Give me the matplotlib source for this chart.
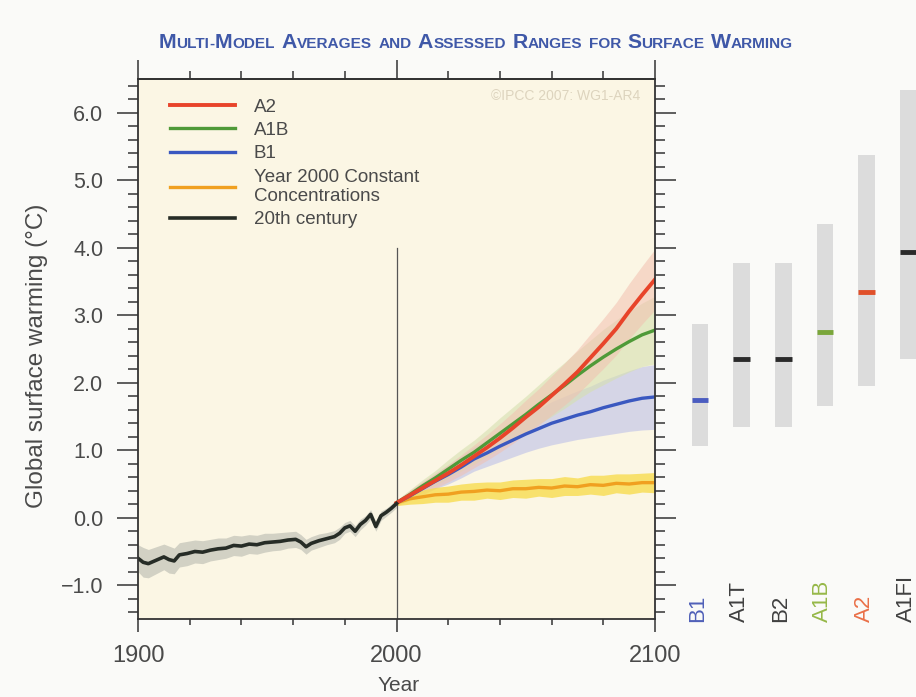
import numpy as np
import matplotlib.pyplot as plt
from matplotlib.ticker import MultipleLocator, FuncFormatter, NullFormatter

plt.rcParams['font.family'] = ['Liberation Sans', 'DejaVu Sans']

# 20th century observed-run mean and spread
hist_years = [1900, 1902, 1904, 1907, 1910, 1912, 1914, 1916, 1919, 1922, 1925, 1928,
              1931, 1934, 1937, 1940, 1943, 1946, 1949, 1952, 1955, 1958, 1961, 1963,
              1965, 1967, 1970, 1973, 1976, 1978, 1980, 1982, 1984, 1986, 1988, 1990,
              1992, 1994, 1996, 1998, 2000]
hist_temp = [-0.60, -0.66, -0.68, -0.63, -0.58, -0.62, -0.64, -0.55, -0.53, -0.50, -0.51, -0.48,
             -0.46, -0.45, -0.41, -0.42, -0.39, -0.40, -0.37, -0.36, -0.35, -0.33, -0.32, -0.36,
             -0.43, -0.38, -0.34, -0.31, -0.28, -0.23, -0.15, -0.12, -0.20, -0.10, -0.04, 0.05,
             -0.13, 0.03, 0.08, 0.14, 0.21]
hist_spread = [0.20, 0.22, 0.21, 0.20, 0.19, 0.20, 0.19, 0.18, 0.18, 0.17, 0.17, 0.16,
               0.16, 0.15, 0.15, 0.15, 0.14, 0.14, 0.14, 0.13, 0.13, 0.12, 0.12, 0.11,
               0.11, 0.10, 0.10, 0.09, 0.09, 0.09, 0.08, 0.08, 0.08, 0.08, 0.07, 0.07,
               0.07, 0.07, 0.06, 0.06, 0.06]

# 21st century projections
proj_years = [2000, 2005, 2010, 2015, 2020, 2025, 2030, 2035, 2040, 2045, 2050,
              2055, 2060, 2065, 2070, 2075, 2080, 2085, 2090, 2095, 2100]
a2_temp = [0.22, 0.33, 0.44, 0.55, 0.66, 0.78, 0.91, 1.04, 1.18, 1.33, 1.49,
           1.64, 1.81, 1.98, 2.16, 2.37, 2.58, 2.80, 3.06, 3.30, 3.53]
a2_spread = [0.04, 0.07, 0.09, 0.11, 0.13, 0.15, 0.17, 0.19, 0.21, 0.23, 0.25,
             0.27, 0.29, 0.31, 0.33, 0.35, 0.37, 0.39, 0.41, 0.43, 0.45]
a1b_temp = [0.22, 0.34, 0.47, 0.59, 0.72, 0.85, 0.97, 1.11, 1.25, 1.39, 1.53,
            1.68, 1.82, 1.96, 2.11, 2.25, 2.38, 2.50, 2.61, 2.71, 2.78]
a1b_spread = [0.04, 0.07, 0.09, 0.11, 0.14, 0.16, 0.18, 0.20, 0.23, 0.25, 0.27,
              0.29, 0.32, 0.34, 0.36, 0.38, 0.41, 0.43, 0.45, 0.47, 0.50]
b1_temp = [0.22, 0.32, 0.43, 0.54, 0.64, 0.75, 0.87, 0.96, 1.06, 1.15, 1.24,
           1.32, 1.40, 1.46, 1.52, 1.57, 1.63, 1.68, 1.73, 1.77, 1.79]
b1_spread = [0.04, 0.07, 0.09, 0.11, 0.14, 0.16, 0.18, 0.20, 0.23, 0.25, 0.27,
             0.29, 0.32, 0.34, 0.36, 0.38, 0.41, 0.43, 0.45, 0.47, 0.48]
const_temp = [0.22, 0.28, 0.31, 0.34, 0.35, 0.38, 0.39, 0.41, 0.40, 0.43, 0.43,
              0.45, 0.44, 0.47, 0.46, 0.49, 0.48, 0.51, 0.50, 0.52, 0.52]
const_spread = [0.04, 0.08, 0.10, 0.11, 0.12, 0.12, 0.13, 0.12, 0.13, 0.13, 0.14,
                0.13, 0.14, 0.14, 0.13, 0.14, 0.15, 0.14, 0.15, 0.14, 0.15]

# assessed likely ranges at 2090-2099
scen_names = ['B1', 'A1T', 'B2', 'A1B', 'A2', 'A1FI']
scen_low = [1.07, 1.35, 1.35, 1.65, 1.95, 2.35]
scen_high = [2.87, 3.77, 3.77, 4.35, 5.37, 6.33]
scen_best = [1.75, 2.35, 2.35, 2.75, 3.35, 3.93]
scen_colors = ['#4a5cc0', '#2a2a2a', '#2a2a2a', '#7aa63a', '#e0502a', '#2a2a2a']
scen_text_colors = ['#5060b8', '#404040', '#404040', '#96b848', '#ea7048', '#404040']

W, H = 916, 697
fig = plt.figure(figsize=(W / 100, H / 100), dpi=100, facecolor='#fafaf8')
ax = fig.add_axes([138 / W, 1 - 619 / H, (655 - 138) / W, (619 - 79) / H])
ax.set_facecolor('#fbf6e4')

txt = '#4a4a4a'

# shaded spreads
hy, ht, hs = np.array(hist_years), np.array(hist_temp), np.array(hist_spread)
ax.fill_between(hy, ht - hs, ht + hs, color='#c8c8bc', alpha=0.8, lw=0)
py = np.array(proj_years)
for temp, spread, col, a in [(b1_temp, b1_spread, '#c9cbe8', 0.75),
                             (a1b_temp, a1b_spread, '#d6e0b0', 0.6),
                             (a2_temp, a2_spread, '#f2c0b0', 0.55),
                             (const_temp, const_spread, '#f8dc50', 0.8)]:
    t, s = np.array(temp), np.array(spread)
    ax.fill_between(py, t - s, t + s, color=col, alpha=a, lw=0)

ax.plot([2000, 2000], [-1.5, 4.0], color='#555555', lw=0.9)

l_const, = ax.plot(py, const_temp, color='#f0a020', lw=2.4)
l_b1, = ax.plot(py, b1_temp, color='#3a58c0', lw=2.4)
l_a1b, = ax.plot(py, a1b_temp, color='#4f9a38', lw=2.4)
l_a2, = ax.plot(py, a2_temp, color='#e8442a', lw=2.8)
l_hist, = ax.plot(hy, ht, color='#262c26', lw=2.6)

ax.set_xlim(1900, 2100)
ax.set_ylim(-1.5, 6.5)
ax.xaxis.set_major_locator(MultipleLocator(100))
ax.xaxis.set_minor_locator(MultipleLocator(20))
ax.yaxis.set_major_locator(MultipleLocator(1.0))
ax.yaxis.set_minor_locator(MultipleLocator(0.2))
ax.yaxis.set_major_formatter(FuncFormatter(lambda v, p: f'{v:.1f}'.replace('-', '\u2212')))
ax.tick_params(axis='both', which='both', direction='out', colors='#333333',
               labelcolor=txt, width=1.1)
ax.tick_params(axis='y', which='both', left=True, right=True)
ax.tick_params(axis='y', which='major', length=15, labelsize=15.5, pad=10)
ax.tick_params(axis='y', which='minor', length=7)
ax.tick_params(axis='x', which='major', length=9.5, labelsize=17, pad=9)
ax.tick_params(axis='x', which='minor', length=4)
for sp in ax.spines.values():
    sp.set_color('#333333')
    sp.set_linewidth(1.3)

# top ticks are longer than the bottom ones
top = ax.secondary_xaxis('top')
top.xaxis.set_major_locator(MultipleLocator(100))
top.xaxis.set_minor_locator(MultipleLocator(20))
top.xaxis.set_major_formatter(NullFormatter())
top.tick_params(axis='x', which='major', direction='out', length=14, width=1.1, colors='#333333')
top.tick_params(axis='x', which='minor', direction='out', length=6, width=1.1, colors='#333333')
top.spines['top'].set_color('#333333')
top.spines['top'].set_linewidth(1.3)

fig.text(399 / W, 1 - 695 / H, 'Year', ha='center', va='bottom', fontsize=15, color=txt)
fig.text(37 / W, 1 - 356 / H, 'Global surface warming (°C)', rotation=90,
         ha='center', va='center', fontsize=17.5, color=txt)

leg = ax.legend([l_a2, l_a1b, l_b1, l_const, l_hist],
                ['A2', 'A1B', 'B1', 'Year 2000 Constant\nConcentrations', '20th century'],
                loc='upper left', bbox_to_anchor=(0.03, 0.995), frameon=False,
                fontsize=13.5, handlelength=3.45, handletextpad=1.0, labelspacing=0.33,
                labelcolor=txt)

ax.text(0.971, 0.969, '©IPCC 2007: WG1-AR4', transform=ax.transAxes, ha='right',
        va='center', fontsize=10, color='#ddd4be')

# assessed ranges beside the main panel
ax2 = fig.add_axes([679 / W, 1 - 619 / H, 250 / W, (619 - 79) / H])
ax2.set_xlim(-0.5, 5.5)
ax2.set_ylim(-1.5, 6.5)
ax2.axis('off')
xs = np.arange(len(scen_names))
lo, hi = np.array(scen_low), np.array(scen_high)
ax2.bar(xs, hi - lo, bottom=lo, width=0.4, color='#dcdcdc', lw=0)
for x, b, c, tc, name in zip(xs, scen_best, scen_colors, scen_text_colors, scen_names):
    ax2.plot([x - 0.2, x + 0.2], [b, b], color=c, lw=3.5, solid_capstyle='butt')
    ax2.text(x - 0.05, -1.55, name, rotation=90, ha='center', va='bottom',
             fontsize=16, color=tc)

# small-caps title built from pieces
title = 'Multi-Model Averages and Assessed Ranges for Surface Warming'
pieces = []
for wi, word in enumerate(title.split(' ')):
    if wi > 0:
        pieces.append((' ', None))
    for part_i, part in enumerate(word.split('-')):
        if part_i > 0:
            pieces.append(('-', False))
        if part[0].isupper():
            pieces.append((part[0], True))
            if len(part) > 1:
                pieces.append((part[1:].upper(), False))
        else:
            pieces.append((part.upper(), False))

fig.canvas.draw()
r = fig.canvas.get_renderer()
items = []
total = 0
space = 6.5
for s, big in pieces:
    if big is None:
        items.append((None, space))
        total += space
        continue
    t = fig.text(0, 0, s, fontsize=15.3 if big else 11.1, fontweight='bold',
                 color='#3f58a8', va='baseline')
    w = t.get_window_extent(r).width
    items.append((t, w))
    total += w
x = 476 - total / 2
for t, w in items:
    if t is not None:
        t.set_position((x / W, 1 - 48 / H))
    x += w

fig.savefig('out.png', dpi=100, facecolor=fig.get_facecolor())
